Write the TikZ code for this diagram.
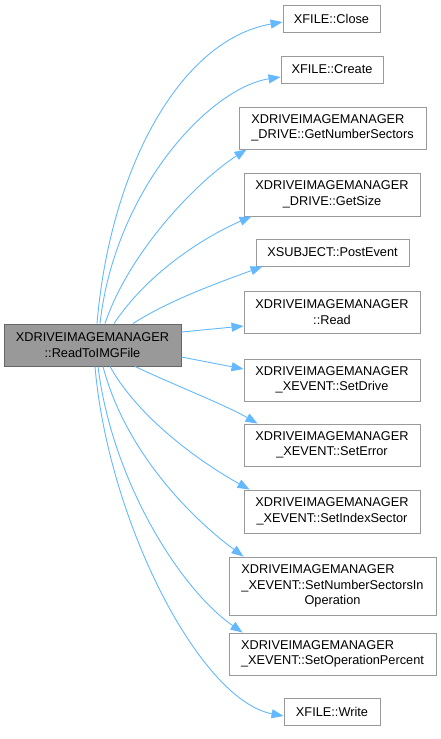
\documentclass[tikz,border=0pt]{standalone}
\usepackage{fontspec}
\setmainfont{Liberation Sans}
\usepackage{xcolor}
\usepackage{tikz}
\usetikzlibrary{arrows.meta, positioning}
\definecolor{edgeblue}{HTML}{63B8FF}
\definecolor{rootfill}{HTML}{999999}
\definecolor{rootline}{HTML}{666666}
\definecolor{boxline}{HTML}{999999}

\begin{document}
\begin{tikzpicture}[
  x=1pt, y=-1pt,
  fnbox/.style={draw=boxline, fill=white, line width=0.9pt, inner sep=0pt, align=center, font=\fontsize{12.75}{15.5}\selectfont},
  rootbox/.style={fnbox, draw=rootline, fill=rootfill},
  callarrow/.style={-{Triangle[length=12pt, width=9pt]}, line width=0.9pt, color=edgeblue}
]
  \useasboundingbox (0,0) rectangle (441,739);

  % caller
  \node[rootbox, minimum width=177pt, minimum height=42pt] (root) at (92.5,345) {XDRIVEIMAGEMANAGER\\::ReadToIMGFile};

  % callees
  \node[fnbox, minimum width=97pt,  minimum height=27pt] (close)   at (331.5,18.5) {XFILE::Close};
  \node[fnbox, minimum width=102pt, minimum height=27pt] (create)  at (332,69.5)   {XFILE::Create};
  \node[fnbox, minimum width=187pt, minimum height=42pt, align=left] (getnum) at (332.5,128) {XDRIVEIMAGEMANAGER\\\_DRIVE::GetNumberSectors};
  \node[fnbox, minimum width=176pt, minimum height=43pt] (getsize) at (332,194.5)  {XDRIVEIMAGEMANAGER\\\_DRIVE::GetSize};
  \node[fnbox, minimum width=153pt, minimum height=27pt] (post)    at (332.5,252.5) {XSUBJECT::PostEvent};
  \node[fnbox, minimum width=176pt, minimum height=42pt] (read)    at (332,312)    {XDRIVEIMAGEMANAGER\\::Read};
  \node[fnbox, minimum width=176pt, minimum height=42pt] (setdrive) at (332,380)   {XDRIVEIMAGEMANAGER\\\_XEVENT::SetDrive};
  \node[fnbox, minimum width=176pt, minimum height=42pt] (seterror) at (332,445)   {XDRIVEIMAGEMANAGER\\\_XEVENT::SetError};
  \node[fnbox, minimum width=176pt, minimum height=43pt] (setindex) at (332,511.5) {XDRIVEIMAGEMANAGER\\\_XEVENT::SetIndexSector};
  \node[fnbox, minimum width=207pt, minimum height=58pt, align=left] (setnum) at (332.5,586) {XDRIVEIMAGEMANAGER\\\_XEVENT::SetNumberSectorsIn\\\hspace*{\fill}Operation\hspace*{\fill}};
  \node[fnbox, minimum width=207pt, minimum height=42pt, align=left] (setop) at (332.5,654) {XDRIVEIMAGEMANAGER\\\_XEVENT::SetOperationPercent};
  \node[fnbox, minimum width=96pt,  minimum height=27pt] (write)   at (332,711.5)  {XFILE::Write};

  % calls leaving the top
  \draw[callarrow] ([xshift=4.5pt]root.north)  .. controls +(13,-154) and +(-103,18) .. ([yshift=-3.5pt]close.west);
  \draw[callarrow] ([xshift=7.5pt]root.north)  .. controls +(15,-134) and +(-71,11) .. ([yshift=-7.5pt]create.west);
  \draw[callarrow] ([xshift=12.5pt]root.north) .. controls +(25,-74) and +(-47,30) .. ([xshift=8pt]getnum.south west);
  \draw[callarrow] ([xshift=21.5pt]root.north) .. controls +(36,-54) and +(-42,18) .. ([xshift=8pt]getsize.south west);
  \draw[callarrow] ([xshift=40.5pt]root.north) .. controls +(37,-24) and +(-38,14) .. ([xshift=7pt]post.south west);

  % calls leaving the side
  \draw[callarrow] ([yshift=13pt]root.east) -- ([yshift=-14pt]read.west);
  \draw[callarrow] ([yshift=-12pt]root.east) -- ([yshift=11pt]setdrive.west);

  % calls leaving the bottom
  \draw[callarrow] ([xshift=42.5pt]root.south) .. controls +(40,19) and +(-33,-19) .. ([xshift=14pt]seterror.north west);
  \draw[callarrow] ([xshift=17.5pt]root.south) .. controls +(30,54) and +(-45,-25) .. ([xshift=6pt]setindex.north west);
  \draw[callarrow] ([xshift=10.5pt]root.south) .. controls +(22,84) and +(-54,-40) .. ([xshift=15pt]setnum.north west);
  \draw[callarrow] ([xshift=5.5pt]root.south)  .. controls +(14,114) and +(-63,-44) .. ([xshift=14pt]setop.north west);
  \draw[callarrow] ([xshift=2.5pt]root.south)  .. controls +(13,154) and +(-84,-16) .. ([yshift=-4.5pt]write.west);
\end{tikzpicture}
\end{document}
